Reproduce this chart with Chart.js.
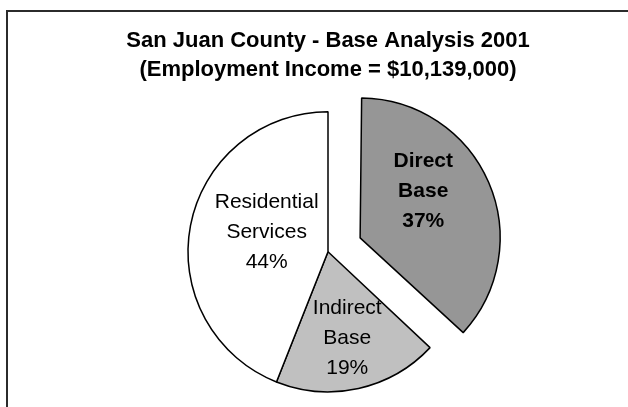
<!DOCTYPE html>
<html>
<head>
<meta charset="utf-8">
<script src="https://cdn.jsdelivr.net/npm/chart.js@4.4.1/dist/chart.umd.min.js"></script>
<style>
  html, body { margin: 0; padding: 0; background: #fff; overflow: hidden; }
  #frame { position: absolute; left: 6px; top: 10px; width: 700px; height: 500px; border: 2px solid #2b2b2b; }
  #chart { position: absolute; left: 0; top: 0; }
</style>
</head>
<body>
<div id="frame"></div>
<canvas id="chart" width="628" height="407"></canvas>
<script>
// chart data
const titleLines = ['San Juan County - Base Analysis 2001', '(Employment Income = $10,139,000)'];
const categories = ['Direct Base', 'Indirect Base', 'Residential Services'];
const shares = [37, 19, 44];
const sliceColors = ['#969696', '#c0c0c0', '#ffffff'];
const explode = [140, 0, 0]; // chart.js moves a slice by offset / 4

const FONT = "'Liberation Sans', Arial, sans-serif";

// label anchor per slice: [fraction of radius, angle shift in degrees]
const labelAnchors = [[0.56, -13], [0.63, 0], [0.46, 7]];

// keep exploded slice at the same radius as the others (chart.js grows it a bit)
const keepRadius = {
  id: 'keepRadius',
  beforeDatasetsDraw(chart) {
    const meta = chart.getDatasetMeta(0);
    const base = meta.controller.outerRadius;
    meta.data.forEach((arc, i) => {
      const off = (explode[i] || 0) / 4;
      const circ = arc.endAngle - arc.startAngle;
      arc.outerRadius = base - off * (1 - Math.sin(Math.min(Math.PI, circ)));
    });
  }
};

const sliceLabels = {
  id: 'sliceLabels',
  afterDatasetsDraw(chart) {
    const ctx = chart.ctx;
    const meta = chart.getDatasetMeta(0);
    const total = shares.reduce((a, b) => a + b, 0);
    ctx.save();
    ctx.fillStyle = '#000';
    ctx.textAlign = 'center';
    ctx.textBaseline = 'middle';
    meta.data.forEach((arc, i) => {
      const { x, y, startAngle, endAngle } = arc.getProps(['x', 'y', 'startAngle', 'endAngle'], true);
      const mid = (startAngle + endAngle) / 2;
      const off = (explode[i] || 0) / 4;
      const cx = x + Math.cos(mid) * off;
      const cy = y + Math.sin(mid) * off;
      const [frac, shift] = labelAnchors[i];
      const a = mid + shift * Math.PI / 180;
      const r = meta.controller.outerRadius * frac;
      const lx = cx + Math.cos(a) * r;
      const ly = cy + Math.sin(a) * r;
      const lines = categories[i].split(' ').concat(Math.round(shares[i] / total * 100) + '%');
      ctx.font = (i === 0 ? 'bold ' : '') + '21px ' + FONT;
      const lh = 30;
      lines.forEach((t, k) => {
        ctx.fillText(t, lx, ly + (k - (lines.length - 1) / 2) * lh);
      });
    });
    ctx.restore();
  }
};

new Chart(document.getElementById('chart').getContext('2d'), {
  type: 'pie',
  data: {
    labels: categories,
    datasets: [{
      data: shares,
      backgroundColor: sliceColors,
      borderColor: '#000',
      borderWidth: 1.5,
      offset: explode,
      radius: 140
    }]
  },
  options: {
    responsive: false,
    animation: false,
    events: [],
    layout: { padding: { left: 28, right: 0, top: 0, bottom: 0 } },
    plugins: {
      legend: { display: false },
      tooltip: { enabled: false },
      title: {
        display: true,
        text: titleLines,
        color: '#000',
        font: { family: FONT, size: 22, weight: 'bold', lineHeight: 1.32 },
        padding: { top: 26.5, bottom: 12 }
      }
    }
  },
  plugins: [keepRadius, sliceLabels]
});
</script>
</body>
</html>
